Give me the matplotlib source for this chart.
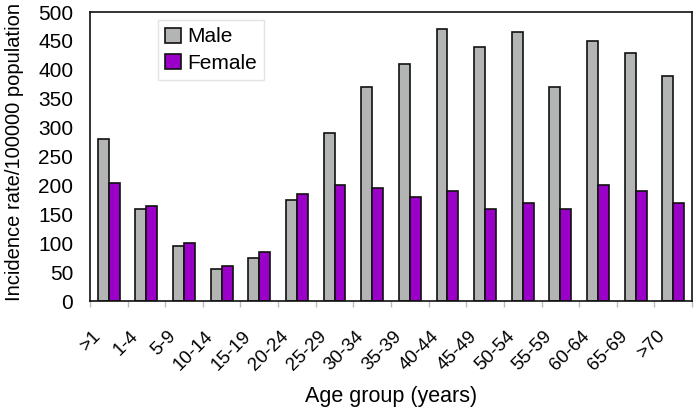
import matplotlib
matplotlib.use("Agg")
import matplotlib.pyplot as plt
import matplotlib.transforms as mtrans
import numpy as np

plt.rcParams['font.family'] = ['Liberation Sans', 'DejaVu Sans']

categories = [">1", "1-4", "5-9", "10-14", "15-19", "20-24", "25-29", "30-34",
              "35-39", "40-44", "45-49", "50-54", "55-59", "60-64", "65-69", ">70"]
male = [280, 160, 95, 55, 75, 175, 290, 370, 410, 470, 440, 465, 370, 450, 430, 390]
female = [205, 165, 100, 60, 85, 185, 200, 195, 180, 190, 160, 170, 160, 200, 190, 170]
yticks = [0, 50, 100, 150, 200, 250, 300, 350, 400, 450, 500]

fig = plt.figure(figsize=(6.97, 4.17), dpi=100)
ax = fig.add_axes([0.129, 0.278, 0.864, 0.693])

x = np.arange(len(categories))
w = 0.29
ax.bar(x - w/2, male, w, color="#B3B5B5", edgecolor="#111111", linewidth=1.2, label="Male")
ax.bar(x + w/2, female, w, color="#9A00C8", edgecolor="#111111", linewidth=1.2, label="Female")

ax.set_xlim(-0.5, len(categories) - 0.5)
ax.set_ylim(0, 500)
ax.set_yticks(yticks)
ax.tick_params(axis='y', length=0, labelsize=15, pad=12)
ax.set_xticks(x)
ax.tick_params(axis='x', which='major', length=0, pad=19, labelsize=13.5)
ax.set_xticklabels(categories)
offset = mtrans.ScaledTranslation(-0.17, 0, fig.dpi_scale_trans)
for lab in ax.get_xticklabels():
    lab.set_rotation(45)
    lab.set_ha('right')
    lab.set_rotation_mode('anchor')
    lab.set_fontsize(13.5)
    lab.set_transform(lab.get_transform() + offset)
# boundary tick marks
ax.set_xticks(np.arange(len(categories) + 1) - 0.5, minor=True)
ax.tick_params(axis='x', which='minor', length=4, color="#BBBBBB", width=1)

for s in ax.spines.values():
    s.set_linewidth(1.2)
    s.set_color("#111111")

ax.set_ylabel("Incidence rate/100000 population", fontsize=14.5)
ax.yaxis.set_label_coords(-0.11, 0.515)
ax.set_xlabel("Age group (years)", fontsize=15.5, labelpad=9)

leg = ax.legend(loc='upper left', bbox_to_anchor=(0.113, 0.972), fontsize=15, frameon=True,
                fancybox=False, edgecolor="#DDDDDD", handlelength=0.75, handleheight=0.75,
                handletextpad=0.3, borderpad=0.35, labelspacing=0.35, borderaxespad=0)
leg.get_frame().set_linewidth(1.0)

fig.savefig("out.png", dpi=100)
